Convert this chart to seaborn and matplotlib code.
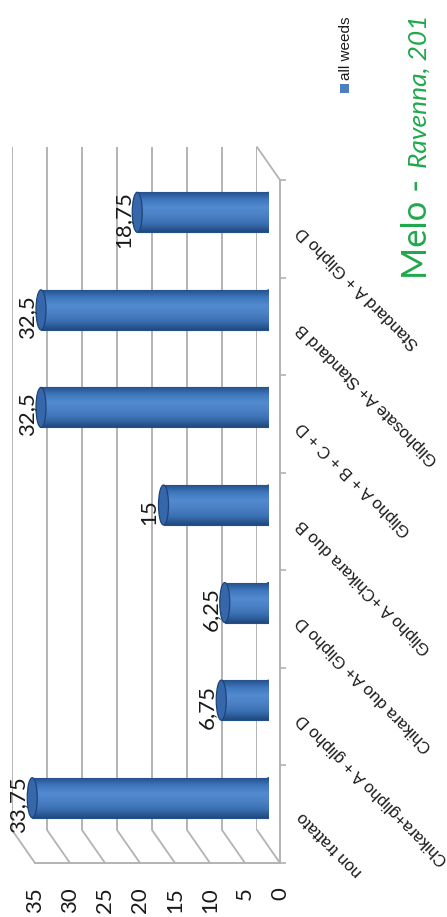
import numpy as np
import pandas as pd
import matplotlib
matplotlib.use('Agg')
import matplotlib.pyplot as plt
import seaborn as sns
from matplotlib.patches import Ellipse, Rectangle, ConnectionPatch
from matplotlib.colors import LinearSegmentedColormap

# ---------------- dati ----------------
trattamenti = ['non trattato', 'Chikara+glipho A + glipho D', 'Chikara duo A+ Glipho D',
               'Glipho A +Chikara duo B', 'Glipho A + B + C + D', 'Gliphosate A+ Standard B',
               'Standard A + Glipho D']
all_weeds = [33.75, 6.75, 6.25, 15, 32.5, 32.5, 18.75]
etichette = ['33,75', '6,75', '6,25', '15', '32,5', '32,5', '18,75']
valori_asse = [0, 5, 10, 15, 20, 25, 30, 35]
serie = 'all weeds'
titolo_1 = 'Melo -'
titolo_2 = 'Ravenna, 201'

df = pd.DataFrame({'trattamento': trattamenti, serie: all_weeds, 'etichetta': etichette})
# il grafico e' ruotato: il primo trattamento sta in basso
ordine = trattamenti[::-1]

sns.set_style('white')
plt.rcParams['font.family'] = ['Liberation Sans', 'DejaVu Sans']
NUM_FONT = ['Lato', 'DejaVu Sans']

BLU = '#4a7fc1'
GRIGIO = '#b3b3b3'
VERDE = '#1fa94b'

W, H = 447, 917
fig = plt.figure(figsize=(W / 100, H / 100), dpi=100)


def px_axes(l, t, r, b):
    a = fig.add_axes([l / W, 1 - b / H, (r - l) / W, (b - t) / H])
    a.patch.set_alpha(0)
    return a


def limiti(a):
    a.set_xlim(35, 0)
    a.set_ylim(6.5, -0.5)


# tre piani per l'effetto 3D: parete di fondo, barre, assi frontali
dx, dy = 11.5, 16.5
ax_back = px_axes(23.5 - dx, 163.5 - dy, 268.5 - dx, 846.5 - dy)
ax = px_axes(23.5, 163.5, 268.5, 846.5)
ax_front = px_axes(23.5 + dx, 163.5 + dy, 268.5 + dx, 846.5 + dy)
ax_back.set_zorder(0)
ax.set_zorder(1)
ax_front.set_zorder(2)

# ---- parete di fondo: griglia
limiti(ax_back)
ax_back.set_xticks(valori_asse)
ax_back.set_yticks([])
ax_back.grid(axis='x', color=GRIGIO, lw=1.4)
ax_back.tick_params(axis='x', length=0, labelbottom=False)
for s in ax_back.spines.values():
    s.set_visible(False)

# ---- barre (cilindri)
larg = 0.41
sns.barplot(data=df, x=serie, y='trattamento', order=ordine, orient='h', color=BLU,
            width=larg, saturation=1, edgecolor='#24508a', linewidth=0.8, ax=ax)
cap_w = 10 / 7.0

cmap = LinearSegmentedColormap.from_list(
    'cil', ['#224d88', '#3f77bd', '#538bd0', '#4a80c4', '#3a6fb2', '#21497f'])
grad = np.linspace(0, 1, 64).reshape(-1, 1)


def sfuma(patch, x0, x1, y0, y1, z):
    im = ax.imshow(grad, cmap=cmap, aspect='auto', extent=[x0, x1, y1, y0],
                   origin='upper', interpolation='bicubic', zorder=z)
    im.set_clip_path(patch)


bars = list(ax.patches)
for p in bars:
    y0, h = p.get_y(), p.get_height()
    v = p.get_width()
    yc = y0 + h / 2
    p.set_zorder(2)
    sfuma(p, 0, v, y0, y0 + h, 2.1)
    base = Ellipse((0, yc), cap_w, h, facecolor=BLU, edgecolor='#24508a', lw=0.8, zorder=1.5)
    ax.add_patch(base)
    sfuma(base, -cap_w, cap_w, y0, y0 + h, 1.6)
    faccia = Ellipse((v, yc), cap_w, h, facecolor='#3667aa', edgecolor='#1d4479', lw=0.9, zorder=3)
    ax.add_patch(faccia)

for pos, nome in enumerate(ordine):
    riga = df[df['trattamento'] == nome].iloc[0]
    ax.text(riga[serie] + cap_w / 2 + 0.45, pos + 0.07, riga['etichetta'], rotation=90,
            rotation_mode='anchor', ha='center', va='baseline', fontsize=16,
            family=NUM_FONT, color='#1a1a1a', zorder=4)

limiti(ax)
ax.set_axis_off()

# ---- assi frontali
limiti(ax_front)
ax_front.set_xticks(valori_asse)
ax_front.set_xticklabels([str(v) for v in valori_asse], rotation=90, fontsize=16,
                         family=NUM_FONT, color='#1a1a1a')
ax_front.yaxis.tick_right()
ax_front.set_yticks(range(len(ordine)))
ax_front.set_yticklabels(ordine, rotation=135, ha='right', va='center',
                         rotation_mode='anchor', fontsize=12, color='#1a1a1a')
ax_front.set_yticks(np.arange(-0.5, len(ordine), 1), minor=True)
ax_front.tick_params(axis='y', which='major', length=0, pad=14)
ax_front.tick_params(axis='y', which='minor', length=4.5, color=GRIGIO, width=1.2)
ax_front.tick_params(axis='x', length=7.2, color=GRIGIO, width=1.2, pad=10)
ax_front.spines['top'].set_visible(False)
ax_front.spines['left'].set_visible(False)
for s in ('bottom', 'right'):
    ax_front.spines[s].set_color(GRIGIO)
    ax_front.spines[s].set_linewidth(1.4)

# pavimento e lato: diagonali tra fondo e fronte
for v in valori_asse:
    fig.add_artist(ConnectionPatch(xyA=(v, 6.5), coordsA=ax_back.transData,
                                   xyB=(v, 6.5), coordsB=ax_front.transData,
                                   color=GRIGIO, lw=1.3))
fig.add_artist(ConnectionPatch(xyA=(0, -0.5), coordsA=ax_back.transData,
                               xyB=(0, -0.5), coordsB=ax_front.transData,
                               color=GRIGIO, lw=1.3))

# ---- titolo (verticale)
fig.text(427 / W, 1 - 279 / H, titolo_1, rotation=90, rotation_mode='anchor',
         ha='left', va='baseline', fontsize=25, color=VERDE, family=NUM_FONT)
fig.text(427 / W, 1 - 168 / H, titolo_2, rotation=90, rotation_mode='anchor',
         ha='left', va='baseline', fontsize=19, color=VERDE, family=NUM_FONT,
         style='italic')

# ---- legenda
fig.add_artist(Rectangle((340 / W, 1 - 93 / H), 9 / W, 9 / H, transform=fig.transFigure,
                         facecolor=BLU, edgecolor='none'))
fig.text(350 / W, 1 - 80 / H, serie, rotation=90, rotation_mode='anchor',
         ha='left', va='baseline', fontsize=11, color='#1a1a1a')

fig.savefig('out.png', dpi=100)
